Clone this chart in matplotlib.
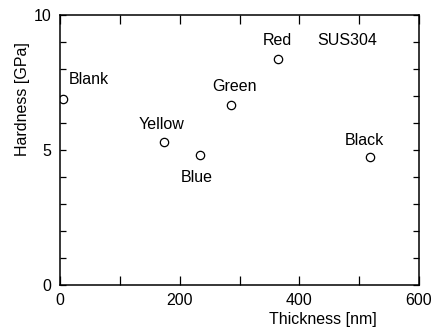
import numpy as np
from matplotlib import pyplot as plt
from matplotlib.ticker import MultipleLocator

plt.rcParams['font.family'] = ['Liberation Sans', 'DejaVu Sans']
plt.rcParams['font.size'] = 11.5

# samples
names = ['Blank', 'Yellow', 'Blue', 'Green', 'Red', 'Black']
thickness = [5, 173, 234, 286, 364, 518]
hardness = [6.88, 5.30, 4.83, 6.67, 8.36, 4.75]

# label anchor points (data coords)
label_x = [15, 170, 229, 291, 363, 508]
label_y = [7.6, 5.95, 4.0, 7.35, 9.05, 5.35]
label_ha = ['left', 'center', 'center', 'center', 'center', 'center']

fig = plt.figure(figsize=(4.36, 3.29), dpi=100)
ax = fig.add_axes([60/436, 1 - 285/329, 359/436, 270/329])

ax.plot(thickness, hardness, 'o', ms=6, mfc='white', mec='black', mew=0.9)

for i in range(len(names)):
    ax.text(label_x[i], label_y[i], names[i], ha=label_ha[i], va='center')
ax.text(480, 9.05, 'SUS304', ha='center', va='center')

ax.set_xlim(0, 600)
ax.set_ylim(0, 10)
ax.xaxis.set_major_locator(MultipleLocator(200))
ax.xaxis.set_minor_locator(MultipleLocator(100))
ax.yaxis.set_major_locator(MultipleLocator(5))
ax.yaxis.set_minor_locator(MultipleLocator(1))
ax.tick_params(which='both', direction='in', top=True, right=True,
               width=0.9, pad=6)
ax.tick_params(axis='x', which='both', length=6.5)
ax.tick_params(axis='y', which='both', length=4)
for s in ax.spines.values():
    s.set_linewidth(1.1)

ax.set_xlabel('Thickness [nm]')
ax.xaxis.set_label_coords((323 - 60) / 359, -(312 - 285) / 270)
ax.set_ylabel('Hardness [GPa]')
ax.yaxis.set_label_coords(-(60 - 30) / 359, (285 - 99) / 270)

plt.savefig('out.png', dpi=100)
